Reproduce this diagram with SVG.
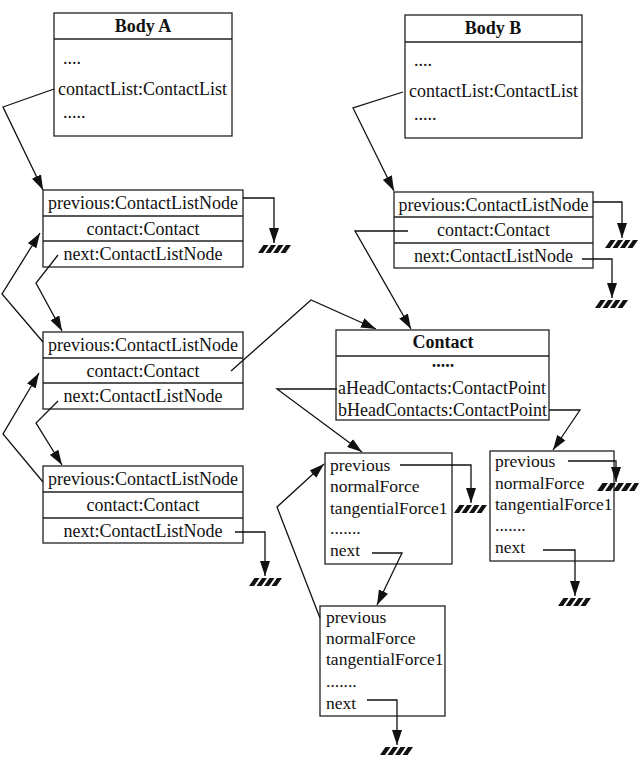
<svg xmlns="http://www.w3.org/2000/svg" xmlns:xlink="http://www.w3.org/1999/xlink" width="643" height="777" viewBox="0 0 643 777">
<style>
.box{fill:#fff;stroke:#222;stroke-width:1.3}
.div{stroke:#222;stroke-width:1.3}
.t{font-family:"Liberation Serif","Times New Roman",serif;font-size:18px;fill:#111}
.tc{text-anchor:middle}
.b{font-weight:bold}
.cp{font-size:17.5px}
.con{fill:none;stroke:#111;stroke-width:1.3}
.gnd{fill:#111}
</style>
<defs>
<marker id="ah" viewBox="0 0 15 10" refX="15" refY="5" markerWidth="15" markerHeight="10" markerUnits="userSpaceOnUse" orient="auto">
<path d="M0,0 L15,5 L0,10 z" fill="#111"/>
</marker>
<g id="gnd4" class="gnd">
<polygon points="5.5,0 10.5,0 5,8 0,8"/>
<polygon points="13,0 18,0 12.5,8 7.5,8"/>
<polygon points="20.5,0 25.5,0 20,8 15,8"/>
<polygon points="28,0 33,0 27.5,8 22.5,8"/>
</g>
<g id="gnd5" class="gnd">
<polygon points="5.5,0 11,0 5.5,8 0,8"/>
<polygon points="13.5,0 19,0 13.5,8 8,8"/>
<polygon points="21.5,0 27,0 21.5,8 16,8"/>
<polygon points="29.5,0 35,0 29.5,8 24,8"/>
<polygon points="37.5,0 42,0 37.5,8 32,8"/>
</g>
</defs>

<g id="bodyA">
<rect class="box" x="54" y="13" width="178" height="123"/>
<line class="div" x1="54" y1="39" x2="232" y2="39"/>
<text class="t tc b" x="143" y="32">Body A</text>
<text class="t" x="63" y="64">....</text>
<text class="t" x="58" y="95">contactList:ContactList</text>
<text class="t" x="63" y="118">.....</text>
</g>

<g id="bodyB">
<rect class="box" x="405" y="15" width="177" height="123"/>
<line class="div" x1="405" y1="42" x2="582" y2="42"/>
<text class="t tc b" x="493" y="34">Body B</text>
<text class="t" x="414" y="66">....</text>
<text class="t" x="409" y="97">contactList:ContactList</text>
<text class="t" x="414" y="120">.....</text>
</g>

<g id="listA1">
<rect class="box" x="43" y="190" width="200" height="77"/>
<line class="div" x1="43" y1="216" x2="243" y2="216"/>
<line class="div" x1="43" y1="241" x2="243" y2="241"/>
<text class="t tc" x="143" y="209">previous:ContactListNode</text>
<text class="t tc" x="143" y="235">contact:Contact</text>
<text class="t tc" x="143" y="260">next:ContactListNode</text>
</g>

<g id="listA2">
<rect class="box" x="43" y="332" width="200" height="77"/>
<line class="div" x1="43" y1="358" x2="243" y2="358"/>
<line class="div" x1="43" y1="383" x2="243" y2="383"/>
<text class="t tc" x="143" y="351">previous:ContactListNode</text>
<text class="t tc" x="143" y="377">contact:Contact</text>
<text class="t tc" x="143" y="402">next:ContactListNode</text>
</g>

<g id="listA3">
<rect class="box" x="43" y="466" width="200" height="77"/>
<line class="div" x1="43" y1="492" x2="243" y2="492"/>
<line class="div" x1="43" y1="518" x2="243" y2="518"/>
<text class="t tc" x="143" y="485">previous:ContactListNode</text>
<text class="t tc" x="143" y="511">contact:Contact</text>
<text class="t tc" x="143" y="537">next:ContactListNode</text>
</g>

<g id="listB1">
<rect class="box" x="394" y="192" width="199" height="76"/>
<line class="div" x1="394" y1="217" x2="593" y2="217"/>
<line class="div" x1="394" y1="243" x2="593" y2="243"/>
<text class="t tc" x="493.5" y="211">previous:ContactListNode</text>
<text class="t tc" x="493.5" y="236">contact:Contact</text>
<text class="t tc" x="493.5" y="262">next:ContactListNode</text>
</g>

<g id="contact">
<rect class="box" x="336" y="330" width="213" height="90"/>
<line class="div" x1="336" y1="356" x2="549" y2="356"/>
<text class="t tc b" x="443" y="348">Contact</text>
<text class="t tc b" x="443" y="367">.....</text>
<text class="t" x="338" y="394">aHeadContacts:ContactPoint</text>
<text class="t" x="338" y="416">bHeadContacts:ContactPoint</text>
</g>

<g id="cp1">
<rect class="box" x="325" y="453" width="127" height="111"/>
<text class="t cp" x="330" y="471">previous</text>
<text class="t cp" x="330" y="492">normalForce</text>
<text class="t cp" x="330" y="513.5">tangentialForce1</text>
<text class="t cp" x="330" y="534">.......</text>
<text class="t cp" x="330" y="556">next</text>
</g>

<g id="cp2">
<rect class="box" x="490" y="451" width="124" height="110"/>
<text class="t cp" x="495" y="467">previous</text>
<text class="t cp" x="495" y="488.5">normalForce</text>
<text class="t cp" x="495" y="510">tangentialForce1</text>
<text class="t cp" x="495" y="531">.......</text>
<text class="t cp" x="495" y="553">next</text>
</g>

<g id="cp3">
<rect class="box" x="320" y="606" width="125" height="110"/>
<text class="t cp" x="326" y="623">previous</text>
<text class="t cp" x="326" y="644">normalForce</text>
<text class="t cp" x="326" y="665">tangentialForce1</text>
<text class="t cp" x="326" y="687">.......</text>
<text class="t cp" x="326" y="709">next</text>
</g>

<g id="grounds">
<use xlink:href="#gnd4" x="258" y="245"/>
<use xlink:href="#gnd4" x="249" y="578"/>
<use xlink:href="#gnd4" x="605" y="240"/>
<use xlink:href="#gnd4" x="595" y="300"/>
<use xlink:href="#gnd4" x="454" y="505"/>
<use xlink:href="#gnd5" x="597" y="483"/>
<use xlink:href="#gnd4" x="558" y="598"/>
<use xlink:href="#gnd4" x="380" y="747"/>
</g>

<g id="connectors" class="con">
<path class="con" marker-end="url(#ah)" d="M54,89 L3,107 L43,190"/>
<path class="con" marker-end="url(#ah)" d="M243,198 H274 V243"/>
<path class="con" marker-end="url(#ah)" d="M58,255 L36,283 L62,331"/>
<path class="con" marker-end="url(#ah)" d="M43,342 L2,294 L40,233"/>
<path class="con" marker-end="url(#ah)" d="M58,401 L36,423 L62,465"/>
<path class="con" marker-end="url(#ah)" d="M43,482 L3,434 L39,373"/>
<path class="con" marker-end="url(#ah)" d="M235,532 H265 V576"/>
<path class="con" marker-end="url(#ah)" d="M231,371 L311,300 L376,329"/>
<path class="con" marker-end="url(#ah)" d="M408,231 H355 L411,329"/>
<path class="con" marker-end="url(#ah)" d="M403,92 L353,108 L394,191"/>
<path class="con" marker-end="url(#ah)" d="M593,202 H622 V238"/>
<path class="con" marker-end="url(#ah)" d="M582,259 H612 V298"/>
<path class="con" marker-end="url(#ah)" d="M337,389 H277 L362,452"/>
<path class="con" marker-end="url(#ah)" d="M549,410 H580 L553,450"/>
<path class="con" marker-end="url(#ah)" d="M400,465 H471 V503"/>
<path class="con" marker-end="url(#ah)" d="M372,553 H402 L377,605"/>
<path class="con" marker-end="url(#ah)" d="M320,618 L277,507 L324,464"/>
<path class="con" marker-end="url(#ah)" d="M367,700 H397 V745"/>
<path class="con" marker-end="url(#ah)" d="M568,461 H616 V482"/>
<path class="con" marker-end="url(#ah)" d="M543,550 H575 V596"/>
</g>
</svg>
